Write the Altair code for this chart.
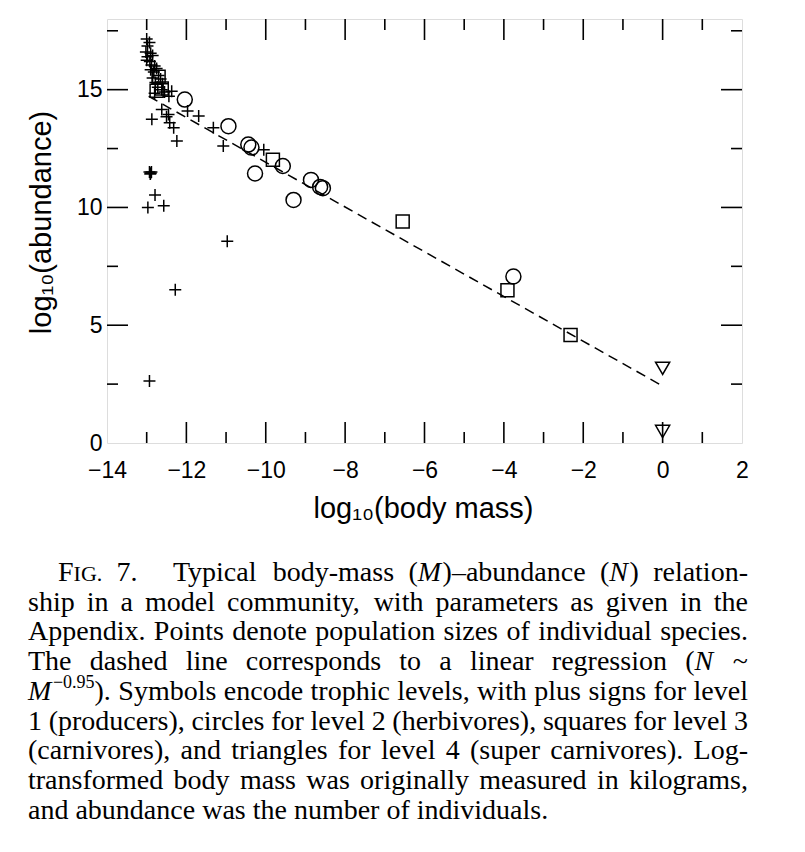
import re
import altair as alt
import pandas as pd

# ---------------- data ----------------
# trophic level 1 (producers, plus signs)
l1_x = [-13.00, -12.93, -12.98, -13.02, -12.90, -12.98, -12.85, -13.00, -12.92, -12.88,
        -12.80, -12.90, -12.75, -12.82, -12.70, -12.85, -12.65, -12.78, -12.60, -12.72,
        -12.62, -12.80, -12.55, -12.37, -12.44, -12.62, -12.50, -12.45, -12.42, -12.32,
        -12.24, -11.97, -11.69, -11.32, -11.07, -10.05, -12.87, -12.93, -12.90, -12.88,
        -12.91, -12.97, -12.79, -12.57, -10.97, -12.28, -12.93]
l1_y = [17.15, 17.00, 16.85, 16.60, 16.55, 16.40, 16.45, 16.25, 16.20, 16.05,
        16.00, 15.85, 15.90, 15.75, 15.60, 15.50, 15.45, 15.30, 15.25, 15.10,
        15.00, 14.85, 14.90, 14.93, 14.72, 14.16, 13.85, 13.95, 13.60, 13.38,
        12.82, 14.09, 13.88, 13.38, 12.61, 12.45, 13.74, 11.50, 11.45, 11.50,
        11.42, 10.00, 10.53, 10.07, 8.56, 6.51, 2.63]
# trophic level 2 (herbivores, circles)
l2_x = [-12.04, -10.94, -10.44, -10.36, -9.57, -10.27, -8.86, -8.63, -8.56, -9.30, -3.76]
l2_y = [14.58, 13.45, 12.67, 12.54, 11.76, 11.44, 11.17, 10.87, 10.82, 10.32, 7.07]
# trophic level 3 (carnivores, squares)
l3_x = [-12.75, -12.62, -12.70, -9.82, -6.55, -3.91, -2.32]
l3_y = [14.95, 15.05, 15.55, 12.02, 9.40, 6.48, 4.58]
# trophic level 4 (super carnivores, triangles)
l4_x = [0.0, 0.0]
l4_y = [3.17, 0.49]
# linear regression (dashed line)
fit_x = [-12.95, 0.0]
fit_y = [14.72, 2.42]

x_labels = [-14, -12, -10, -8, -6, -4, -2, 0, 2]
y_labels = [0, 5, 10, 15]
x_major = [-12, -10, -8, -6, -4, -2, 0]
x_minor = [-13, -11, -9, -7, -5, -3, -1, 1]
y_major = [5, 10, 15]
y_minor = [2.5, 7.5, 12.5, 17.5]

x_title = "log\u2081\u2080(body mass)"
y_title = "log\u2081\u2080(abundance)"

caption = [
    "F{sc:IG.} 7.\u00a0\u00a0\u00a0 Typical body-mass ({i:M})\u2013abundance ({i:N}) relation-",
    "ship in a model community, with parameters as given in the",
    "Appendix. Points denote population sizes of individual species.",
    "The dashed line corresponds to a linear regression ({i:N} ~",
    "{i:M}{sup:\u22120.95}). Symbols encode trophic levels, with plus signs for level",
    "1 (producers), circles for level 2 (herbivores), squares for level 3",
    "(carnivores), and triangles for level 4 (super carnivores). Log-",
    "transformed body mass was originally measured in kilograms,",
    "and abundance was the number of individuals.",
]

# ---------------- layout ----------------
W, H = 635, 424
PAD_L, PAD_T = 99, 11
FONT = "Liberation Sans"
SERIF = "Liberation Serif"

xs = alt.Scale(domain=[-14, 2], nice=False, zero=False)
ys = alt.Scale(domain=[0, 18], nice=False, zero=False)

xaxis = alt.Axis(values=x_labels, ticks=False, domain=False, grid=False, format="d",
                 labelFont=FONT, labelFontSize=23, labelColor="black", labelPadding=16,
                 labelFlush=False, labelOverlap=False,
                 title=x_title, titleFont=FONT, titleFontSize=29, titleFontWeight="normal",
                 titleColor="black", titleX=316, titleY=74, titleBaseline="alphabetic",
                 titleAlign="center")
yaxis = alt.Axis(values=y_labels, ticks=False, domain=False, grid=False, format="d",
                 labelFont=FONT, labelFontSize=23, labelColor="black", labelPadding=5,
                 labelOverlap=False,
                 title=y_title, titleFont=FONT, titleFontSize=29, titleFontWeight="normal",
                 titleColor="black", titleX=-57, titleY=203, titleBaseline="alphabetic",
                 titleAlign="center", titleAngle=270)

X = lambda f: alt.X(f, scale=xs, axis=xaxis)
Y = lambda f: alt.Y(f, scale=ys, axis=yaxis)

layers = []
# inward ticks on all four sides
for vals, ln in ((x_major, 21), (x_minor, 11)):
    d = pd.DataFrame({"v": vals})
    layers.append(alt.Chart(d).mark_rule(color="black", strokeWidth=1.6).encode(
        x=X("v:Q"), y=alt.value(H), y2=alt.value(H - ln)))
    layers.append(alt.Chart(d).mark_rule(color="black", strokeWidth=1.6).encode(
        x=X("v:Q"), y=alt.value(0), y2=alt.value(ln)))
for vals, ln in ((y_major, 21), (y_minor, 11)):
    d = pd.DataFrame({"v": vals})
    layers.append(alt.Chart(d).mark_rule(color="black", strokeWidth=1.6).encode(
        y=Y("v:Q"), x=alt.value(0), x2=alt.value(ln)))
    layers.append(alt.Chart(d).mark_rule(color="black", strokeWidth=1.6).encode(
        y=Y("v:Q"), x=alt.value(W), x2=alt.value(W - ln)))

# regression line
layers.append(alt.Chart(pd.DataFrame({"x": fit_x, "y": fit_y})).mark_line(
    color="black", strokeWidth=1.5, strokeDash=[10, 6]).encode(x=X("x:Q"), y=Y("y:Q")))

# points
PLUS = "M-1,0H1M0,-1V1"
for xx, yy, shape, size in ((l1_x, l1_y, PLUS, 144), (l2_x, l2_y, "circle", 225),
                            (l3_x, l3_y, "square", 169), (l4_x, l4_y, "triangle-down", 200)):
    layers.append(alt.Chart(pd.DataFrame({"x": xx, "y": yy})).mark_point(
        shape=shape, size=size, filled=False, stroke="black", strokeWidth=1.5, opacity=1
    ).encode(x=X("x:Q"), y=Y("y:Q")))

# ---------------- caption typesetting (justified) ----------------
TW = {}
TW.update(dict(zip("abcdefghijklmnopqrstuvwxyz",
                   [444, 500, 444, 500, 444, 333, 500, 500, 278, 278, 500, 278, 778, 500, 500, 500,
                    500, 333, 389, 278, 500, 500, 722, 500, 500, 444])))
TW.update(dict(zip("ABCDEFGHIJKLMNOPQRSTUVWXYZ",
                   [722, 667, 667, 722, 611, 556, 722, 722, 333, 389, 722, 611, 889, 722, 722, 556,
                    722, 667, 556, 611, 722, 722, 944, 722, 722, 611])))
TW.update({c: 500 for c in "0123456789"})
TW.update({" ": 250, "\u00a0": 250, ".": 250, ",": 250, "-": 333, "(": 333, ")": 333,
           "\u2013": 500, "~": 541, "\u2212": 564, ":": 278})
BASE = 28
SIZES = {"n": BASE, "i": BASE, "sc": 22, "sup": 18}
RAISE = {"n": 0, "i": 0, "sc": 0, "sup": -12}


def runs_of(word):
    out = []
    for part in re.split(r"(\{\w+:[^}]*\})", word):
        if not part:
            continue
        m = re.match(r"\{(\w+):([^}]*)\}", part)
        out.append((m.group(2), m.group(1)) if m else (part, "n"))
    return out


def width(text, style):
    return sum(TW.get(c, 500) for c in text) * SIZES[style] / 1000.0


X0, X1, INDENT = 28 - 107, 748 - 107, 58 - 107
BL0, LEAD = 581 - 19, 29.7
rows = []
for k, line in enumerate(caption):
    words = [runs_of(w) for w in line.split(" ")]
    wws = [sum(width(t, s) for t, s in w) for w in words]
    left = INDENT if k == 0 else X0
    if k == len(caption) - 1 or len(words) == 1:
        gap = width(" ", "n")
    else:
        gap = (X1 - left - sum(wws)) / (len(words) - 1)
    xpos = left
    for w, ww in zip(words, wws):
        xr = xpos
        for t, s in w:
            rows.append({"t": t, "px": xr, "py": BL0 + k * LEAD + RAISE[s],
                         "fs": SIZES[s], "st": "italic" if s == "i" else "normal"})
            xr += width(t, s)
        xpos += ww + gap
cap = pd.DataFrame(rows)
for st in ("normal", "italic"):
    layers.append(alt.Chart(cap[cap.st == st]).mark_text(
        align="left", baseline="alphabetic", font=SERIF, fontStyle=st, color="black"
    ).encode(x=alt.X("px:Q", scale=None), y=alt.Y("py:Q", scale=None),
             size=alt.Size("fs:Q", scale=None), text="t:N"))

chart = alt.layer(*layers).properties(
    width=W, height=H,
    padding={"left": PAD_L, "top": PAD_T, "right": 55, "bottom": 395},
    autosize=alt.AutoSizeParams(type="none"),
).configure_view(stroke="black", strokeWidth=2).configure(background="white")

chart.save("out.html", embed_options={"renderer": "svg", "actions": False})
